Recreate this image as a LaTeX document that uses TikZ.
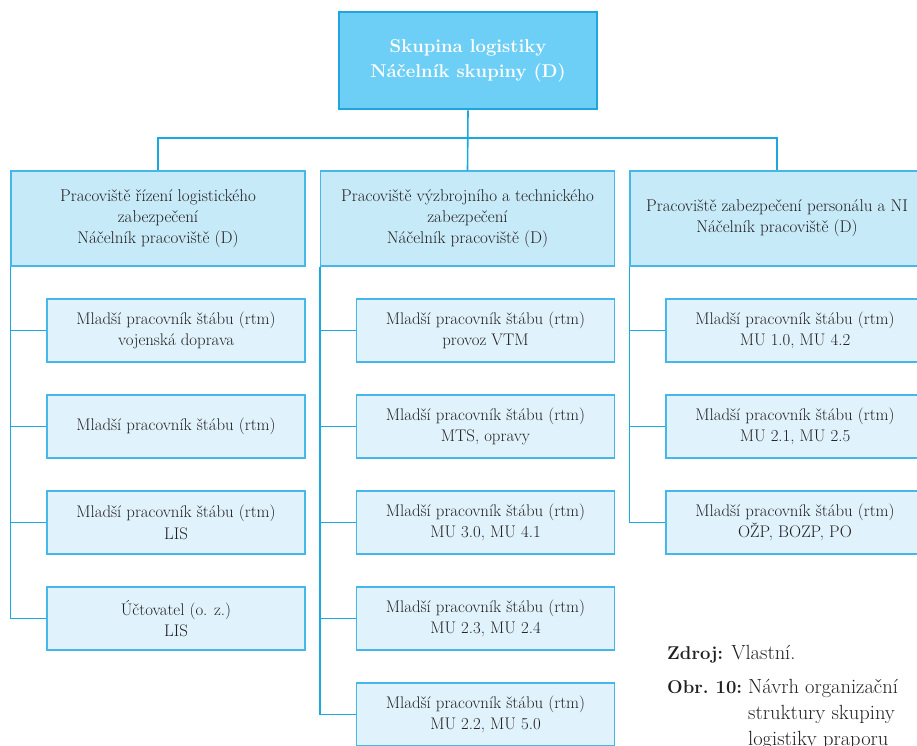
\documentclass[tikz,border=0pt]{standalone}
\usepackage{fontspec}
\definecolor{inkgray}{HTML}{231F20}
\definecolor{linkblue}{HTML}{1AA8E0}
\definecolor{topfill}{HTML}{6DCFF6}
\definecolor{topedge}{HTML}{20A6DF}
\definecolor{headfill}{HTML}{C7EAF9}
\definecolor{childfill}{HTML}{E0F3FC}
\definecolor{boxedge}{HTML}{45B7E9}
% bold lead-in of the caption lines
\newcommand\capbold[1]{{\fontsize{18.5}{26}\selectfont\bfseries #1}}
\tikzset{
  topbox/.style={draw=topedge, line width=2.8pt, fill=topfill, text=white,
    minimum width=258pt, minimum height=97pt, inner sep=0pt, align=center,
    font=\fontsize{18.5}{25}\selectfont\bfseries},
  headbox/.style={draw=boxedge, line width=1.3pt, fill=headfill, text=inkgray,
    minimum width=294pt, minimum height=95pt, inner sep=0pt, align=center,
    font=\fontsize{17}{21}\selectfont},
  childbox/.style={draw=boxedge, line width=1.3pt, fill=childfill, text=inkgray,
    minimum width=258pt, minimum height=63pt, inner sep=0pt, align=center,
    font=\fontsize{16.8}{21.6}\selectfont},
  link/.style={draw=linkblue, line width=1.6pt},
  captxt/.style={anchor=base west, inner sep=0pt, text=inkgray,
    font=\fontsize{20.5}{26}\selectfont}
}
\begin{document}
\begin{tikzpicture}[x=1pt,y=-1pt]
\clip (0,0) rectangle (917,745);

% head of the group
\node[topbox] (top) at (468,60.5) {Skupina logistiky\\Náčelník skupiny (D)};

% the three workplaces
\node[headbox] (h1) at (158,218.5) {Pracoviště řízení logistického\\zabezpečení\\Náčelník pracoviště (D)};
\node[headbox] (h2) at (467.5,218.5) {Pracoviště výzbrojního a technického\\zabezpečení\\Náčelník pracoviště (D)};
\node[headbox] (h3) at (777,218.5) {Pracoviště zabezpečení personálu a NI\\Náčelník pracoviště (D)};

% staff of the first workplace
\node[childbox] (c11) at (176,330.5) {Mladší pracovník štábu (rtm)\\vojenská doprava};
\node[childbox] (c12) at (176,426.5) {Mladší pracovník štábu (rtm)};
\node[childbox] (c13) at (176,522.5) {Mladší pracovník štábu (rtm)\\LIS};
\node[childbox] (c14) at (176,618.5) {Účtovatel (o. z.)\\LIS};

% staff of the second workplace
\node[childbox] (c21) at (485.5,330.5) {Mladší pracovník štábu (rtm)\\provoz VTM};
\node[childbox] (c22) at (485.5,426.5) {Mladší pracovník štábu (rtm)\\MTS, opravy};
\node[childbox] (c23) at (485.5,522.5) {Mladší pracovník štábu (rtm)\\MU 3.0, MU 4.1};
\node[childbox] (c24) at (485.5,618.5) {Mladší pracovník štábu (rtm)\\MU 2.3, MU 2.4};
\node[childbox] (c25) at (485.5,714.5) {Mladší pracovník štábu (rtm)\\MU 2.2, MU 5.0};

% staff of the third workplace
\node[childbox] (c31) at (795,330.5) {Mladší pracovník štábu (rtm)\\MU 1.0, MU 4.2};
\node[childbox] (c32) at (795,426.5) {Mladší pracovník štábu (rtm)\\MU 2.1, MU 2.5};
\node[childbox] (c33) at (795,522.5) {Mladší pracovník štábu (rtm)\\OŽP, BOZP, PO};

% bus from the head to the workplaces
\coordinate (bus) at (468,138);
\draw[link] (top.south) -- (h2.north);
\draw[link] (h1.north) -- (h1.north |- bus) -- (h3.north |- bus) -- (h3.north);

% spines and branches
\draw[link] (h1.south west) |- (c14.west);
\foreach \c in {c11,c12,c13}
  \draw[link] (h1.south west |- \c.west) -- (\c.west);
\draw[link] (h2.south west) |- (c25.west);
\foreach \c in {c21,c22,c23,c24}
  \draw[link] (h2.south west |- \c.west) -- (\c.west);
\draw[link] (h3.south west) |- (c33.west);
\foreach \c in {c31,c32}
  \draw[link] (h3.south west |- \c.west) -- (\c.west);

% source and caption
\node[captxt] (src) at (667,659) {\capbold{Zdroj:} Vlastní.};
\node[captxt] (obr) at (667,693) {\capbold{Obr.~10:}};
\node[captxt] (cap1) at (748,693) {Návrh organizační};
\node[captxt] (cap2) at (748,719) {struktury skupiny};
\node[captxt] (cap3) at (748,745) {logistiky praporu};
\end{tikzpicture}
\end{document}
